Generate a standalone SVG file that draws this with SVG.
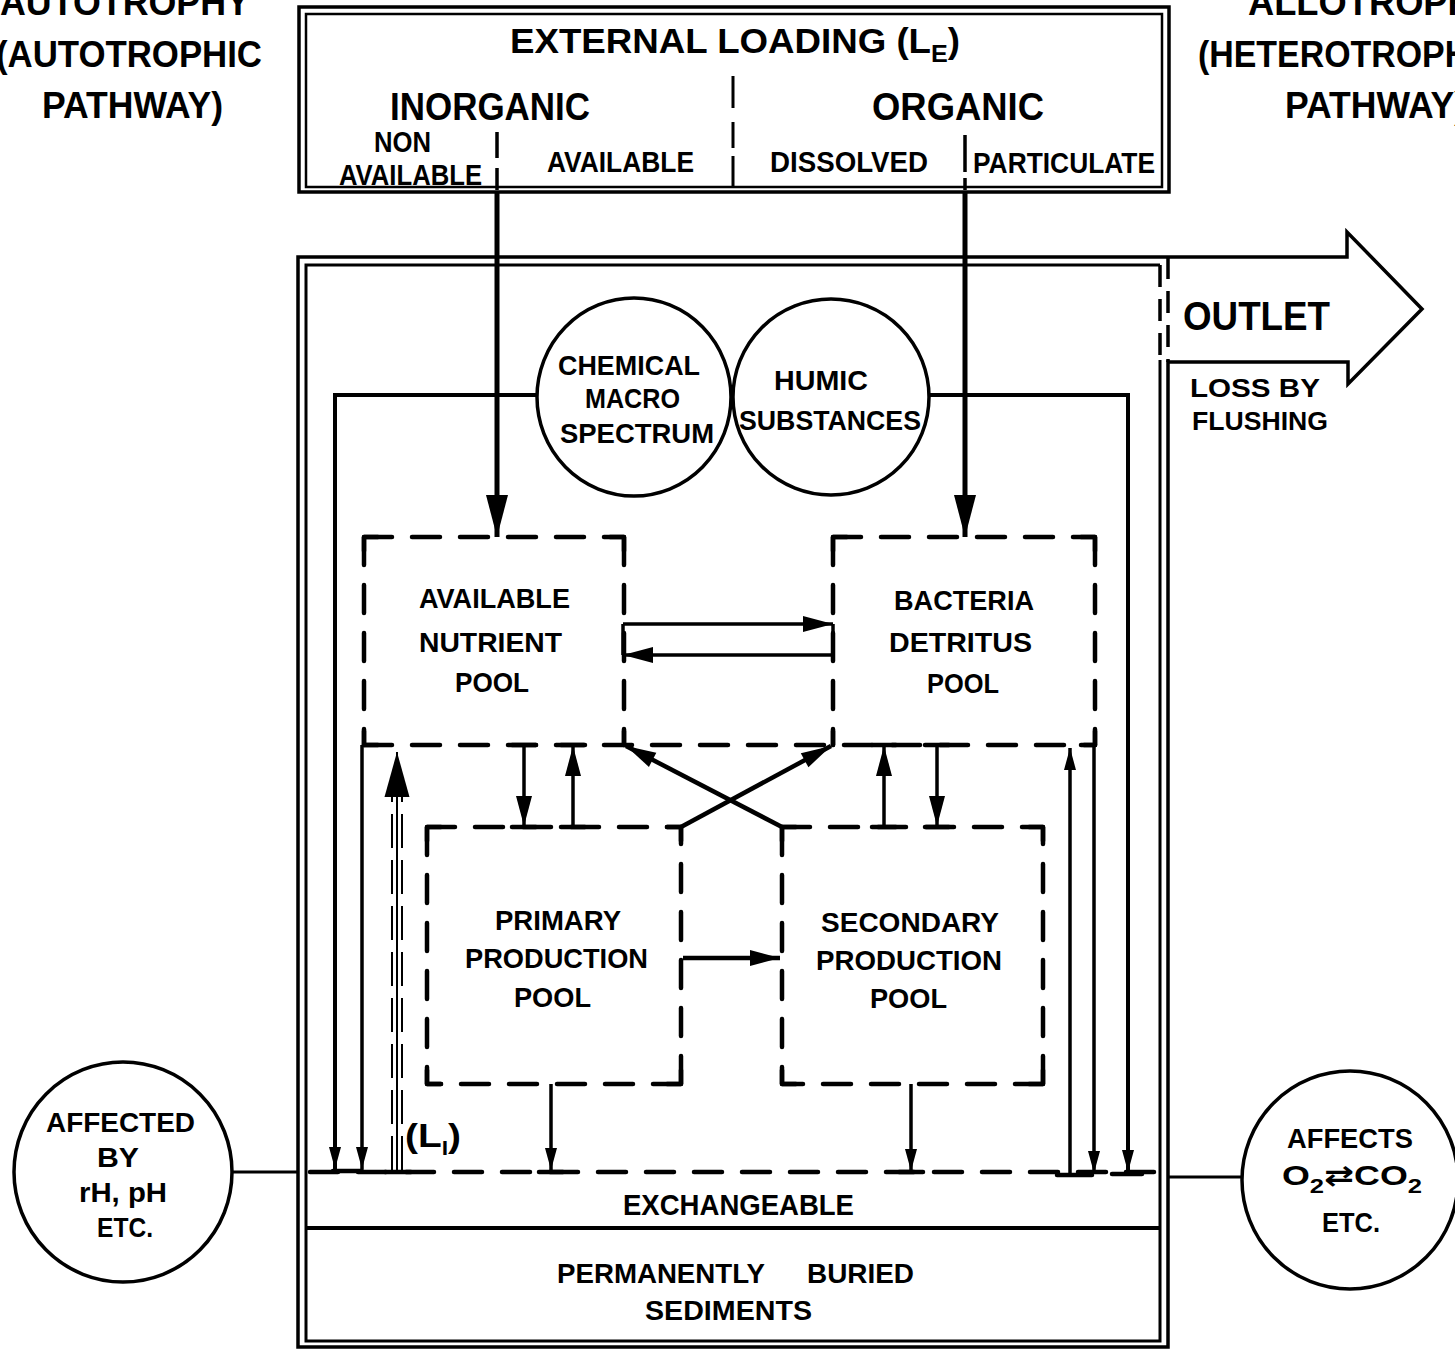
<svg xmlns="http://www.w3.org/2000/svg" width="1455" height="1350" viewBox="0 0 1455 1350">
<style>
text{font-family:"Liberation Sans",Arial,sans-serif;font-weight:bold;fill:#000}
.t1{font-size:37px}
.t2{font-size:35px}
.t3{font-size:39px}
.t4{font-size:29px}
.t5{font-size:28px}
.ln{stroke:#000;fill:none}
.ds{stroke:#000;stroke-width:4.5;fill:none;stroke-dasharray:28 20;stroke-linecap:round}
.cn{stroke:#000;stroke-width:4.5;fill:none;stroke-linecap:round;stroke-linejoin:round}
.bar{stroke:#000;stroke-width:4.5;stroke-linecap:round;fill:none}
.ar{stroke:#000;fill:none;stroke-width:3.5}
</style>
<defs>
<marker id="aL" markerUnits="userSpaceOnUse" markerWidth="44" markerHeight="24" refX="42" refY="11" orient="auto" overflow="visible"><path d="M0,0 L42,11 L0,22 Z" fill="#000"/></marker>
<marker id="aM" markerUnits="userSpaceOnUse" markerWidth="32" markerHeight="18" refX="30" refY="8" orient="auto" overflow="visible"><path d="M0,0 L30,8 L0,16 Z" fill="#000"/></marker>
<marker id="aS" markerUnits="userSpaceOnUse" markerWidth="24" markerHeight="14" refX="22" refY="6" orient="auto" overflow="visible"><path d="M0,0 L22,6 L0,12 Z" fill="#000"/></marker>
<marker id="aX" markerUnits="userSpaceOnUse" markerWidth="47" markerHeight="27" refX="45" refY="12.5" orient="auto" overflow="visible"><path d="M0,0 L45,12.5 L0,25 Z" fill="#000"/></marker>
</defs>
<rect width="1455" height="1350" fill="#fff"/>

<g id="autotrophy-label">
<text class="t1" x="0" y="15" textLength="250" lengthAdjust="spacingAndGlyphs">AUTOTROPHY</text>
<text class="t1" x="-4" y="67" textLength="266" lengthAdjust="spacingAndGlyphs">(AUTOTROPHIC</text>
<text class="t1" x="42" y="118" textLength="181" lengthAdjust="spacingAndGlyphs">PATHWAY)</text>
</g>

<g id="allotrophy-label">
<text class="t1" x="1248" y="15" textLength="250" lengthAdjust="spacingAndGlyphs">ALLOTROPHY</text>
<text class="t1" x="1198" y="67" textLength="305" lengthAdjust="spacingAndGlyphs">(HETEROTROPHIC</text>
<text class="t1" x="1285" y="118" textLength="181" lengthAdjust="spacingAndGlyphs">PATHWAY)</text>
</g>

<g id="external-loading">
<rect x="299" y="7" width="870" height="185" class="ln" stroke-width="3.5"/>
<rect x="306" y="14" width="856" height="173" class="ln" stroke-width="2.5"/>
<text class="t2" x="510" y="53" textLength="450" lengthAdjust="spacingAndGlyphs">EXTERNAL  LOADING (L<tspan dy="9" font-size="24">E</tspan><tspan dy="-9">)</tspan></text>
<path class="ln" stroke-width="3" d="M733,76 V108 M733,122 V148 M733,156 V188"/>
<path class="ln" stroke-width="3.5" d="M497,132 V158 M497,168 V190 M965,135 V172 M965,178 V190"/>
<text class="t3" x="390" y="120" textLength="200" lengthAdjust="spacingAndGlyphs">INORGANIC</text>
<text class="t3" x="872" y="120" textLength="172" lengthAdjust="spacingAndGlyphs">ORGANIC</text>
<text class="t4" x="374" y="152" textLength="57" lengthAdjust="spacingAndGlyphs">NON</text>
<text class="t4" x="339" y="185" textLength="143" lengthAdjust="spacingAndGlyphs">AVAILABLE</text>
<text class="t4" x="547" y="172" textLength="147" lengthAdjust="spacingAndGlyphs">AVAILABLE</text>
<text class="t4" x="770" y="172" textLength="158" lengthAdjust="spacingAndGlyphs">DISSOLVED</text>
<text class="t4" x="973" y="173" textLength="182" lengthAdjust="spacingAndGlyphs">PARTICULATE</text>
</g>

<g id="system-boundary">
<path class="ln" stroke-width="3.5" stroke-linejoin="miter" d="M1168,362 H1348 V384 L1422,309 L1347,232 V257 H298 V1347 H1168 Z"/>
<path class="ln" stroke-width="3" d="M1160,360 V1341 H306 V265 H1160"/>
<path class="ln" stroke-width="3.5" stroke-dasharray="22 12" d="M1160,265 V360 M1168,257 V362"/>
</g>

<g id="outlet">
<text x="1183" y="330" font-size="40" textLength="147" lengthAdjust="spacingAndGlyphs">OUTLET</text>
<text x="1190" y="397" font-size="26" textLength="130" lengthAdjust="spacingAndGlyphs">LOSS  BY</text>
<text x="1192" y="430" font-size="26" textLength="136" lengthAdjust="spacingAndGlyphs">FLUSHING</text>
</g>

<g id="chemical-macro-spectrum">
<ellipse cx="634" cy="397" rx="97" ry="99" class="ln" stroke-width="3.5"/>
<text class="t5" x="558" y="375" textLength="142" lengthAdjust="spacingAndGlyphs">CHEMICAL</text>
<text class="t5" x="585" y="408" textLength="95" lengthAdjust="spacingAndGlyphs">MACRO</text>
<text class="t5" x="560" y="443" textLength="154" lengthAdjust="spacingAndGlyphs">SPECTRUM</text>
</g>

<g id="humic-substances">
<ellipse cx="831" cy="397" rx="98" ry="98" class="ln" stroke-width="3.5"/>
<text class="t5" x="774" y="390" textLength="94" lengthAdjust="spacingAndGlyphs">HUMIC</text>
<text class="t5" x="739" y="430" textLength="182" lengthAdjust="spacingAndGlyphs">SUBSTANCES</text>
</g>

<g id="available-nutrient-pool">
<path class="ds" d="M364,537 H624 M364,537 V745 M624,537 V745"/>
<path class="cn" d="M364,551 V537 H378 M610,537 H624 V551 M364,731 V745 H378 M624,731 V745"/>
<text class="t5" x="419" y="608" textLength="151" lengthAdjust="spacingAndGlyphs">AVAILABLE</text>
<text class="t5" x="419" y="652" textLength="143" lengthAdjust="spacingAndGlyphs">NUTRIENT</text>
<text class="t5" x="455" y="692" textLength="74" lengthAdjust="spacingAndGlyphs">POOL</text>
</g>

<g id="bacteria-detritus-pool">
<path class="ds" d="M833,537 H1095 M833,537 V745 M1095,537 V745"/>
<path class="cn" d="M833,551 V537 H847 M1081,537 H1095 V551 M833,731 V745 M1081,745 H1095 V731"/>
<text class="t5" x="894" y="610" textLength="140" lengthAdjust="spacingAndGlyphs">BACTERIA</text>
<text class="t5" x="889" y="652" textLength="143" lengthAdjust="spacingAndGlyphs">DETRITUS</text>
<text class="t5" x="927" y="693" textLength="72" lengthAdjust="spacingAndGlyphs">POOL</text>
</g>

<g id="pool-boundary">
<path class="ds" d="M364,745 H1095"/>
</g>

<g id="primary-production-pool">
<path class="ds" d="M427,827 H681 M427,827 V1084 M681,1084 H427 M681,1084 V827"/>
<path class="cn" d="M427,841 V827 H441 M667,827 H681 V841 M427,1070 V1084 H441 M667,1084 H681 V1070"/>
<text class="t5" x="495" y="930" textLength="126" lengthAdjust="spacingAndGlyphs">PRIMARY</text>
<text class="t5" x="465" y="968" textLength="183" lengthAdjust="spacingAndGlyphs">PRODUCTION</text>
<text class="t5" x="514" y="1007" textLength="77" lengthAdjust="spacingAndGlyphs">POOL</text>
</g>

<g id="secondary-production-pool">
<path class="ds" d="M782,827 H1043 M782,827 V1084 M1043,1084 H782 M1043,1084 V827"/>
<path class="cn" d="M782,841 V827 H796 M1029,827 H1043 V841 M782,1070 V1084 H796 M1029,1084 H1043 V1070"/>
<text class="t5" x="821" y="932" textLength="178" lengthAdjust="spacingAndGlyphs">SECONDARY</text>
<text class="t5" x="816" y="970" textLength="186" lengthAdjust="spacingAndGlyphs">PRODUCTION</text>
<text class="t5" x="870" y="1008" textLength="77" lengthAdjust="spacingAndGlyphs">POOL</text>
</g>

<g id="sediments">
<path class="ds" d="M310,1172 H1158"/>
<path class="ln" stroke-width="4" d="M306,1228 H1160"/>
<text x="623" y="1215" font-size="30" textLength="231" lengthAdjust="spacingAndGlyphs">EXCHANGEABLE</text>
<text class="t5" y="1283"><tspan x="557" textLength="208" lengthAdjust="spacingAndGlyphs">PERMANENTLY</tspan><tspan x="807" textLength="107" lengthAdjust="spacingAndGlyphs">BURIED</tspan></text>
<text class="t5" x="645" y="1320" textLength="167" lengthAdjust="spacingAndGlyphs">SEDIMENTS</text>
</g>

<g id="affected-by">
<ellipse cx="123" cy="1172" rx="109" ry="110" class="ln" stroke-width="3.5"/>
<text class="t5" x="46" y="1132" textLength="149" lengthAdjust="spacingAndGlyphs">AFFECTED</text>
<text class="t5" x="97" y="1167" textLength="42" lengthAdjust="spacingAndGlyphs">BY</text>
<text class="t5" x="79" y="1202" textLength="88" lengthAdjust="spacingAndGlyphs">rH, pH</text>
<text class="t5" x="97" y="1237" textLength="56" lengthAdjust="spacingAndGlyphs">ETC.</text>
</g>

<g id="affects">
<ellipse cx="1350" cy="1180" rx="108" ry="109" class="ln" stroke-width="3.5"/>
<text class="t5" x="1287" y="1148" textLength="126" lengthAdjust="spacingAndGlyphs">AFFECTS</text>
<text class="t5" x="1282" y="1185" textLength="140" lengthAdjust="spacingAndGlyphs">O<tspan dy="8" font-size="20">2</tspan><tspan dy="-8" font-family="'DejaVu Sans',sans-serif">⇄</tspan>CO<tspan dy="8" font-size="20">2</tspan></text>
<text class="t5" x="1322" y="1232" textLength="58" lengthAdjust="spacingAndGlyphs">ETC.</text>
</g>

<g id="connectors">
<path class="ln" stroke-width="5" d="M497,192 V537" marker-end="url(#aL)"/>
<path class="ln" stroke-width="5" d="M965,192 V537" marker-end="url(#aL)"/>
<path class="ln" stroke-width="4" d="M537,395 H335 V1169" marker-end="url(#aS)"/>
<path class="ln" stroke-width="4" d="M930,395 H1128 V1172" marker-end="url(#aS)"/>
<path class="ar" d="M623,624 H833" marker-end="url(#aM)"/>
<path class="ar" d="M833,655 H623" marker-end="url(#aM)"/>
<path class="ar" d="M623,624 V655 M833,624 V655"/>
<path class="ar" d="M524,745 V826" marker-end="url(#aM)"/>
<path class="ar" d="M573,827 V746" marker-end="url(#aM)"/>
<path class="ar" d="M884,827 V746" marker-end="url(#aM)"/>
<path class="ar" d="M937,745 V826" marker-end="url(#aM)"/>
<path class="bar" d="M512,745 H536 M512,827 H536 M561,745 H585 M561,827 H585 M872,745 H896 M872,827 H896 M925,745 H949 M925,827 H949"/>
<path class="ln" stroke-width="4.5" d="M681,827 L831,746" marker-end="url(#aM)"/>
<path class="ln" stroke-width="4.5" d="M782,827 L626,746" marker-end="url(#aM)"/>
<path class="ln" stroke-width="4.5" d="M683,958 H780" marker-end="url(#aM)"/>
<path class="ar" d="M362,745 V1169" marker-end="url(#aS)"/>
<path class="bar" d="M333,1171 H362"/>
<path class="ar" d="M551,1084 V1170" marker-end="url(#aS)"/>
<path class="ar" d="M911,1084 V1171" marker-end="url(#aS)"/>
<path class="bar" d="M539,1172 H563 M899,1172 H923"/>
<path class="ar" d="M1070,1175 V748" marker-end="url(#aS)"/>
<path class="ar" d="M1094,745 V1173" marker-end="url(#aS)"/>
<path class="bar" d="M1057,1175 H1092 M1112,1174 H1142"/>
<path class="ln" stroke-width="2" d="M397,1172 V752" marker-end="url(#aX)"/>
<path class="ln" stroke-width="2" stroke-dasharray="34 12" d="M392,1170 V790 M402,1170 V790"/>
<path class="bar" d="M385,1172 H411"/>
<text x="405" y="1147" font-size="34" textLength="56" lengthAdjust="spacingAndGlyphs">(L<tspan dy="8" font-size="20">I</tspan><tspan dy="-8">)</tspan></text>
<path class="ln" stroke-width="3" d="M232,1172 H298 M1168,1177 H1242"/>
</g>
</svg>
